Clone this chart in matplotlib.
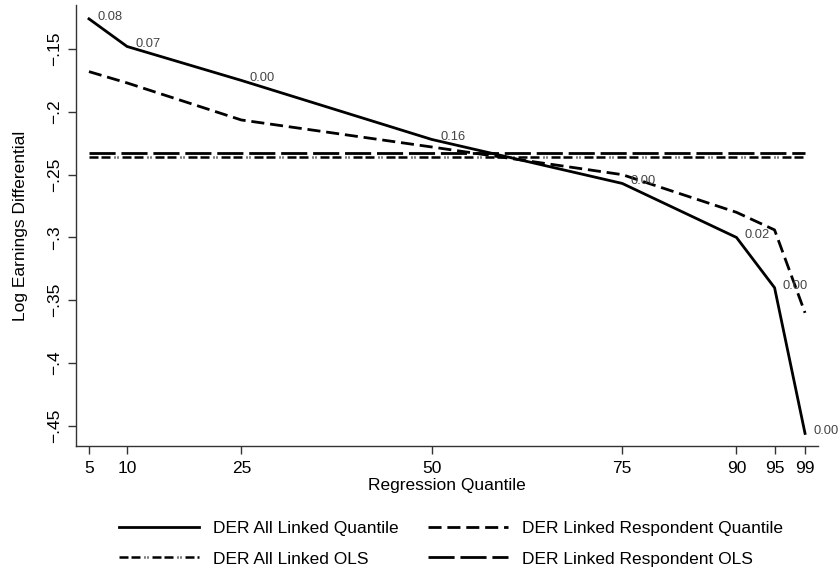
import matplotlib
matplotlib.use("Agg")
import matplotlib.pyplot as plt
from matplotlib.lines import Line2D

plt.rcParams['font.family'] = ['Liberation Sans', 'DejaVu Sans']

quantiles = [5, 10, 25, 50, 75, 90, 95, 99]
all_linked_q = [-0.126, -0.148, -0.175, -0.222, -0.257, -0.300, -0.340, -0.456]
resp_q = [-0.168, -0.177, -0.2065, -0.228, -0.250, -0.280, -0.294, -0.360]
all_linked_ols = -0.236
resp_ols = -0.233
pvalue_labels = ["0.08", "0.07", "0.00", "0.16", "0.00", "0.02", "0.00", "0.00"]
yticks = [-0.45, -0.4, -0.35, -0.3, -0.25, -0.2, -0.15]
ytick_labels = ["\u2212.45", "\u2212.4", "\u2212.35", "\u2212.3", "\u2212.25", "\u2212.2", "\u2212.15"]

FS = 12.5
fig = plt.figure(figsize=(8.4, 5.71), dpi=100)
ax = fig.add_axes([0.0905, 0.2189, 0.8833, 0.7723])

lw = 2.0
dash_q = (4.7, 2.1)
dash_ols_r = (9.4, 2.1)
dash_ols_a = (3.6, 1.2, 3.6, 1.6, 0.4, 0.8, 0.4, 1.6)
ols_x = [quantiles[0], quantiles[-1]]
ax.plot(ols_x, [resp_ols, resp_ols], color='black', lw=lw, dashes=dash_ols_r)
ax.plot(ols_x, [all_linked_ols, all_linked_ols], color='black', lw=lw * 0.9,
        dashes=dash_ols_a)
ax.plot(quantiles, resp_q, color='black', lw=lw, dashes=dash_q)
ax.plot(quantiles, all_linked_q, color='black', lw=lw)

for x, y, s in zip(quantiles, all_linked_q, pvalue_labels):
    ax.annotate(s, (x, y), xytext=(6, 1.5), textcoords='offset points',
                ha='left', va='center', fontsize=9.3, color='#444444')

ax.set_xlim(3.3, 100.7)
ax.set_ylim(-0.466, -0.115)
ax.set_xticks(quantiles)
ax.set_xticklabels([str(q) for q in quantiles], fontsize=FS)
ax.set_yticks(yticks)
ax.set_yticklabels(ytick_labels, fontsize=FS, rotation=90, va='center')
ax.tick_params(direction='out', length=6, width=1, color='#333333')
ax.tick_params(axis='x', pad=5)
ax.tick_params(axis='y', pad=4)
ax.spines['top'].set_visible(False)
ax.spines['right'].set_visible(False)
for s in ['left', 'bottom']:
    ax.spines[s].set_color('#333333')
    ax.spines[s].set_linewidth(1)
ax.set_xlabel("Regression Quantile", fontsize=FS, labelpad=1)
ax.set_ylabel("Log Earnings Differential", fontsize=FS, labelpad=14)

handles = [
    Line2D([], [], color='black', lw=lw),
    Line2D([], [], color='black', lw=lw * 0.9, dashes=dash_ols_a),
    Line2D([], [], color='black', lw=lw, dashes=dash_q),
    Line2D([], [], color='black', lw=lw, dashes=dash_ols_r),
]
labels = ["DER All Linked Quantile", "DER All Linked OLS",
          "DER Linked Respondent Quantile", "DER Linked Respondent OLS"]
fig.legend(handles, labels, ncol=2, loc='center', bbox_to_anchor=(0.537, 0.048),
           frameon=False, fontsize=FS, handlelength=4.6, handletextpad=0.8,
           columnspacing=1.7, labelspacing=0.9)

fig.savefig("out.png", dpi=100)
